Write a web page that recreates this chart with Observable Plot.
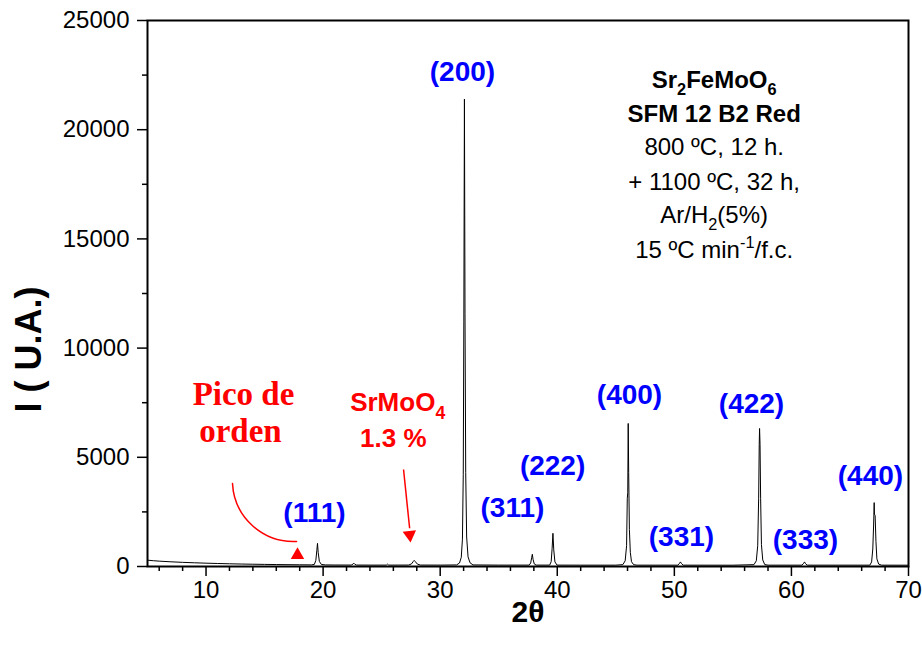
<!DOCTYPE html>
<html>
<head>
<meta charset="utf-8">
<script src="https://cdn.jsdelivr.net/npm/d3@7"></script>
<script src="https://cdn.jsdelivr.net/npm/@observablehq/plot@0.6"></script>
<style>
  html, body { margin: 0; padding: 0; background: white; }
</style>
</head>
<body>
<div id="chart"></div>
<script>
const twoTheta = [
  5.0, 5.5, 6.0, 7.0, 8.0, 9.0, 10.0, 11.0, 12.0, 13.0, 14.0, 15.0, 16.0, 17.0, 18.0, 19.0,
  19.25, 19.38, 19.46, 19.52, 19.58, 19.68, 19.85, 20.2, 21.0,
  22.4, 22.55, 22.62, 22.7, 22.85, 24.0, 25.4, 25.5, 25.6,
  27.3, 27.55, 27.7, 27.78, 27.88, 28.05, 28.3, 30.0,
  31.4, 31.65, 31.8, 31.9, 31.97, 32.02, 32.07, 32.12, 32.18, 32.26, 32.38, 32.55, 32.8, 35.0,
  37.6, 37.73, 37.81, 37.87, 37.93, 38.03, 38.2,
  39.35, 39.48, 39.56, 39.63, 39.7, 39.8, 39.98, 42.0, 45.0,
  45.6, 45.8, 45.92, 45.98, 46.02, 46.06, 46.1, 46.16, 46.24, 46.34, 46.52, 46.8,
  50.3, 50.45, 50.52, 50.6, 50.75, 55.0,
  56.8, 57.0, 57.12, 57.2, 57.25, 57.28, 57.32, 57.37, 57.44, 57.55, 57.72, 58.0,
  60.9, 61.05, 61.12, 61.2, 61.35,
  66.7, 66.85, 66.95, 67.02, 67.07, 67.09, 67.15, 67.22, 67.3, 67.45, 67.7, 70.0
];
const intensity = [
  290, 265, 245, 215, 190, 170, 152, 137, 124, 113, 104, 96, 89, 83, 78, 74,
  95, 280, 720, 1060, 640, 230, 95, 72, 68,
  66, 110, 150, 105, 66, 64, 64, 110, 64,
  66, 120, 230, 280, 220, 110, 66, 64,
  72, 160, 420, 1250, 4200, 11200, 21400, 11600, 4300, 1350, 440, 170, 72, 64,
  64, 160, 400, 560, 330, 120, 64,
  64, 220, 820, 1520, 760, 210, 64, 62, 62,
  85, 260, 950, 3100, 3400, 6550, 4300, 1700, 650, 220, 85, 62,
  62, 150, 210, 140, 62, 60,
  85, 260, 950, 3100, 5600, 6320, 5600, 3100, 1000, 300, 90, 62,
  62, 150, 210, 130, 62,
  62, 210, 800, 1900, 2925, 2400, 2330, 1150, 350, 110, 62, 60
];

// Miller index labels (anchor in data units: 2θ, intensity)
const hklLabels = ["(111)", "(200)", "(311)", "(222)", "(400)", "(331)", "(422)", "(333)", "(440)"];
const hklX      = [19.26, 31.9, 36.17, 39.6, 46.17, 50.61, 56.59, 61.2, 66.75];
const hklY      = [2430, 22620, 2660, 4580, 7830, 1330, 7460, 1190, 4120];

// Sample description block
const infoLines = ["Sr{_2}FeMoO{_6}", "SFM 12 B2 Red", "800 ºC, 12 h.", "+ 1100 ºC, 32 h,", "Ar/H{_2}(5%)", "15 ºC min{^-1}/f.c."];
const infoBold  = [true, true, false, false, false, false];
const infoX     = 53.4;
const infoY     = [22250, 20700, 19180, 17580, 16070, 14490];

// Red annotations
const ordenLines = ["Pico de", "orden"];
const ordenX = [13.2, 12.94];
const ordenY = [7875, 6180];
const phaseLines = ["SrMoO{_4}", "1.3 %"];
const phaseX = [26.37, 26.0];
const phaseY = [7510, 5860];

// Arrows (data units)
const curveArrow = {x1: 12.26, y1: 3800, x2: 17.73, y2: 1150};
const ordenMarker = {x: 17.81, y: 520};
const straightArrow = {x1: 26.87, y1: 4440, x2: 27.39, y2: 1750};
const straightHead = {x: 27.40, y: 1450};

const xMajor = [10, 20, 30, 40, 50, 60, 70];
const xMinor = [6, 8, 12, 14, 16, 18, 22, 24, 26, 28, 32, 34, 36, 38, 42, 44, 46, 48, 52, 54, 56, 58, 62, 64, 66, 68];
const yMajor = [0, 5000, 10000, 15000, 20000, 25000];
const yMinor = [2500, 7500, 12500, 17500, 22500];

const pattern = twoTheta.map((t, i) => ({t, I: intensity[i]}));
const hkl = hklLabels.map((s, i) => ({s, x: hklX[i], y: hklY[i]}));
const info = infoLines.map((s, i) => ({s, x: infoX, y: infoY[i], b: infoBold[i]}));
const orden = ordenLines.map((s, i) => ({s, x: ordenX[i], y: ordenY[i]}));
const phase = phaseLines.map((s, i) => ({s, x: phaseX[i], y: phaseY[i]}));

const chart = Plot.plot({
  width: 922,
  height: 650,
  marginLeft: 147,
  marginRight: 14,
  marginTop: 20,
  marginBottom: 84,
  style: {fontFamily: "'Liberation Sans', Arial, sans-serif", fontSize: "24px", background: "white", color: "black"},
  x: {domain: [5, 70]},
  y: {domain: [0, 25000]},
  marks: [
    Plot.axisX(xMinor, {tickSize: 5, tickFormat: () => "", strokeWidth: 1.5, label: null}),
    Plot.axisX(xMajor, {tickSize: 10, tickPadding: 4, strokeWidth: 1.5, fontSize: 24, label: null, tickFormat: d => String(d)}),
    Plot.axisY(yMinor, {tickSize: 5, tickFormat: () => "", strokeWidth: 1.5, label: null}),
    Plot.axisY(yMajor, {tickSize: 10, tickPadding: 8, strokeWidth: 1.5, fontSize: 24, label: null, tickFormat: d => String(d)}),
    Plot.line(pattern, {x: "t", y: "I", stroke: "black", strokeWidth: 1}),
    Plot.frame({stroke: "black", strokeWidth: 2}),
    Plot.text(["I ( U.A.)"], {frameAnchor: "left", text: d => d, rotate: -90, textAnchor: "middle", lineAnchor: "middle", dx: -118, dy: 56, fontSize: 36, fontWeight: "bold"}),
    Plot.text(["2θ"], {frameAnchor: "bottom", text: d => d, textAnchor: "middle", lineAnchor: "middle", dy: 46, fontSize: 30, fontWeight: "bold"}),
    Plot.text(hkl, {x: "x", y: "y", text: "s", fill: "#0000ff", fontSize: 28, fontWeight: "bold"}),
    Plot.text(info.filter(d => d.b), {x: "x", y: "y", text: "s", fill: "black", fontSize: 24, fontWeight: "bold"}),
    Plot.text(info.filter(d => !d.b), {x: "x", y: "y", text: "s", fill: "black", fontSize: 24}),
    Plot.text(orden, {x: "x", y: "y", text: "s", fill: "#ff0000", fontSize: 33, fontWeight: "bold", fontFamily: "'Liberation Serif', 'Times New Roman', serif"}),
    Plot.text(phase, {x: "x", y: "y", text: "s", fill: "#ff0000", fontSize: 26, fontWeight: "bold"}),
    Plot.arrow([curveArrow], {x1: "x1", y1: "y1", x2: "x2", y2: "y2", bend: -45, headLength: 0, stroke: "#ff0000", strokeWidth: 1.5}),
    Plot.dot([ordenMarker], {x: "x", y: "y", symbol: "triangle", r: 5, fill: "#ff0000", stroke: "none"}),
    Plot.link([straightArrow], {x1: "x1", y1: "y1", x2: "x2", y2: "y2", stroke: "#ff0000", strokeWidth: 1.5}),
    Plot.dot([straightHead], {x: "x", y: "y", symbol: "triangle", r: 5, rotate: 174, fill: "#ff0000", stroke: "none"})
  ]
});

document.getElementById("chart").appendChild(chart);

// Turn {_x} / {^x} markup into real subscript / superscript tspans
d3.select(chart).selectAll("text").each(function() {
  const el = this;
  const txt = el.textContent;
  if (!/\{[_^]/.test(txt)) return;
  const fs = parseFloat(getComputedStyle(el).fontSize) || 20;
  const parts = [];
  const re = /\{([_^])([^}]*)\}/g;
  let last = 0, m;
  while ((m = re.exec(txt))) {
    if (m.index > last) parts.push({t: txt.slice(last, m.index), k: ""});
    parts.push({t: m[2], k: m[1]});
    last = re.lastIndex;
  }
  if (last < txt.length) parts.push({t: txt.slice(last), k: ""});
  while (el.firstChild) el.removeChild(el.firstChild);
  let shift = 0;
  for (const p of parts) {
    const ts = document.createElementNS("http://www.w3.org/2000/svg", "tspan");
    let target = 0;
    if (p.k === "_") { target = 0.3 * fs; ts.setAttribute("font-size", 0.68 * fs); }
    else if (p.k === "^") { target = -0.42 * fs; ts.setAttribute("font-size", 0.68 * fs); }
    const dy = target - shift;
    if (dy !== 0) ts.setAttribute("dy", dy);
    shift = target;
    ts.textContent = p.t;
    el.appendChild(ts);
  }
});
</script>
</body>
</html>
